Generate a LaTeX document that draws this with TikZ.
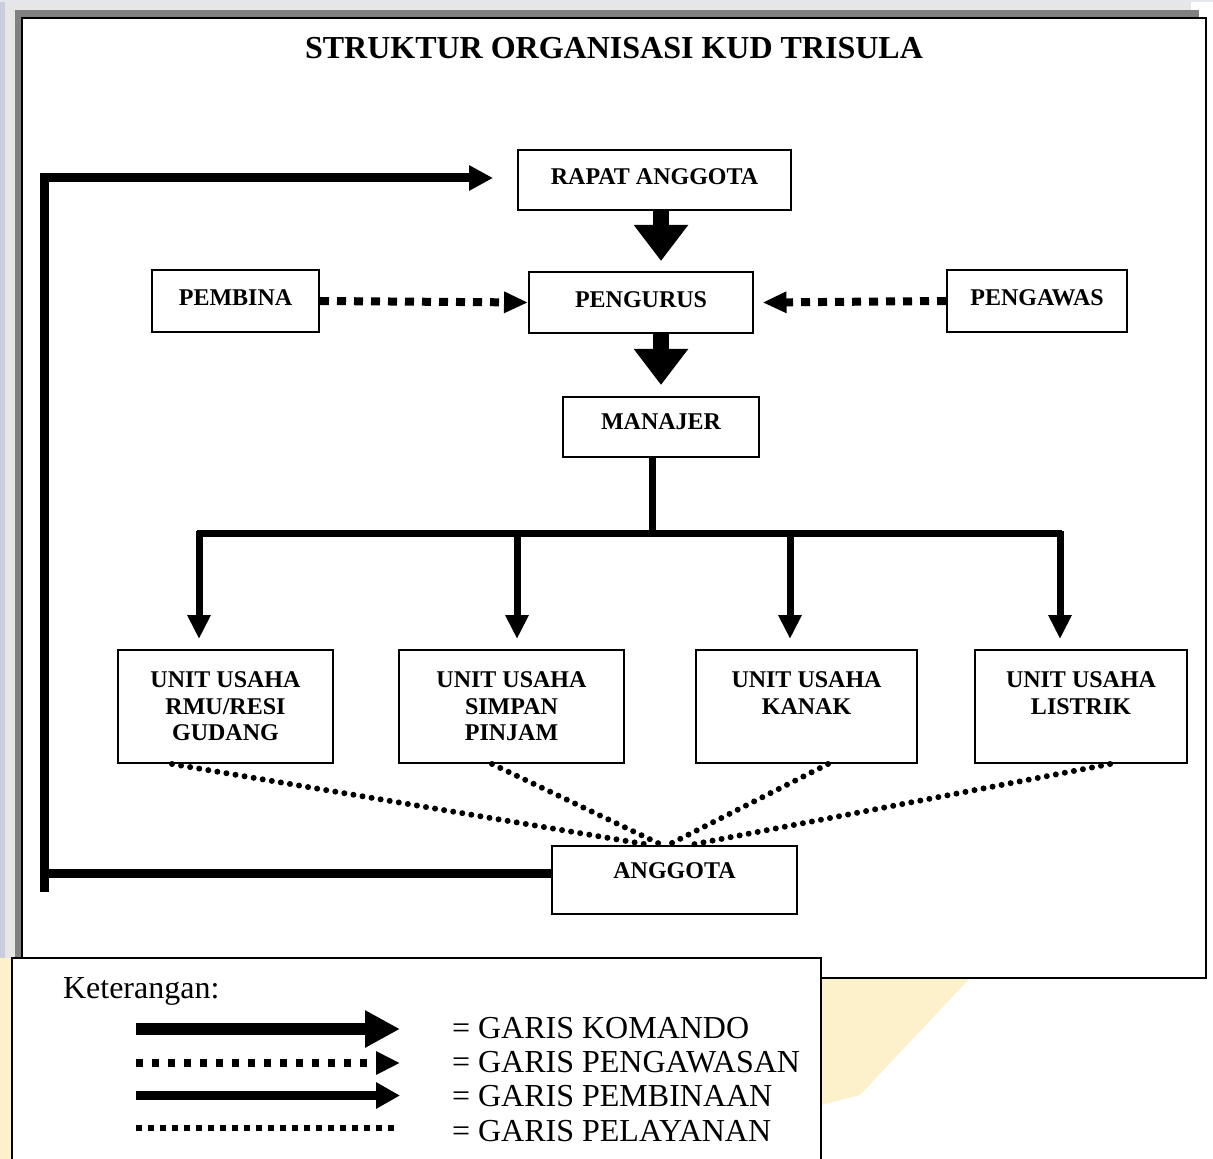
\documentclass[tikz,border=0pt]{standalone}
\usepackage{fontspec}
\setmainfont{Liberation Serif}
\usetikzlibrary{arrows.meta}
\definecolor{shadelight}{HTML}{E6E6E6}
\definecolor{shadedark}{HTML}{808080}
\definecolor{wmblue}{HTML}{C9CEDC}
\definecolor{wmyellow}{HTML}{FDF1CC}
\newcommand\boxfont{\fontsize{12}{13.3}\selectfont\bfseries}
\newcommand\legfont{\fontsize{16}{19}\selectfont}
\begin{document}
\begin{tikzpicture}[x=0.5pt,y=-0.5pt,
	box/.style={draw, line width=1pt, fill=white, inner sep=0pt, align=center, font=\boxfont},
	komando/.style={line width=8pt, -{Triangle[width=26pt,length=18pt]}},
	cabang/.style={line width=3.5pt, -{Triangle[width=11pt,length=12pt]}},
	pembinaan/.style={line width=4.5pt, -{Triangle[width=12pt,length=12pt]}},
	pengawasan/.style={line width=4pt, dash pattern=on 4.5pt off 4pt, -{Triangle[width=10pt,length=12pt]}},
	pelayanan/.style={line width=3pt, line cap=round, dash pattern=on 0pt off 4.6pt}]
	\fill[white] (0,0) rectangle (1213,1159);
	\useasboundingbox (0,0) rectangle (1213,1159);
	% latar dan bayangan bingkai
	\fill[wmblue] (0,0) rectangle (5,958);
	\fill[wmblue!50] (0,0) rectangle (1213,2);
	\fill[wmyellow] (0,958) rectangle (12,1159);
	\fill[wmyellow] (821,978) -- (970,978) -- (860,1095) -- (821,1105) -- cycle;
	\fill[shadelight] (5,2) rectangle (1191,958);
	\fill[shadedark] (15,10) rectangle (1199,958);
	\draw[line width=1pt, fill=white] (22,18) rectangle (1206,978);
	\node (judul) at (614,48) {\fontsize{16}{19}\selectfont\bfseries STRUKTUR ORGANISASI KUD TRISULA};
	% kotak
	\node[box, minimum width=136.5pt, minimum height=30pt, text depth=3pt] (rapat) at (654.5,180) {RAPAT ANGGOTA};
	\node[box, minimum width=112pt, minimum height=30.5pt, text depth=3pt] (pengurus) at (641,302.5) {PENGURUS};
	\node[box, minimum width=83.5pt, minimum height=31pt, text depth=3pt] (pembina) at (235.5,301) {PEMBINA};
	\node[box, minimum width=90pt, minimum height=31pt, text depth=3pt] (pengawas) at (1037,301) {PENGAWAS};
	\node[box, minimum width=98pt, minimum height=30pt, text depth=5pt] (manajer) at (661,427) {MANAJER};
	\node[box, minimum width=107.5pt, minimum height=56.5pt] (unitA) at (225.5,706.5) {UNIT USAHA\\RMU/RESI\\GUDANG};
	\node[box, minimum width=112.5pt, minimum height=56.5pt] (unitB) at (511.5,706.5) {UNIT USAHA\\SIMPAN\\PINJAM};
	\node[box, minimum width=110.5pt, minimum height=56.5pt] (unitC) at (806.5,706.5) {UNIT USAHA\\KANAK\\~};
	\node[box, minimum width=106pt, minimum height=56.5pt] (unitD) at (1081,706.5) {UNIT USAHA\\LISTRIK\\~};
	\node[box, minimum width=122.5pt, minimum height=34pt, text depth=9pt] (anggota) at (674.5,880) {ANGGOTA};
	% garis komando
	\draw[komando] ([xshift=3.25pt]rapat.south) -- ([xshift=3.25pt,yshift=5pt]rapat.south |- pengurus.north);
	\draw[komando] (pengurus.south -| manajer.north) -- ([yshift=5.5pt]manajer.north);
	\coordinate (bar) at (652,533);
	\draw[line width=3.5pt] ([xshift=-4.5pt]manajer.south) -- (bar);
	\draw[line width=3.5pt] (197,533) -- (1062,533);
	\foreach \u/\x in {unitA/199, unitB/517, unitC/790, unitD/1060}
		\draw[cabang] (\x,531) -- ([yshift=5pt]\u.north -| \x,0);
	% garis pengawasan
	\draw[pengawasan] (pembina.east) -- (pengurus.west);
	\draw[pengawasan] (pengawas.west) -- ([xshift=4.25pt]pengurus.east);
	% garis pembinaan
	\coordinate (fbfoot) at (44,892);
	\coordinate (fbtop) at (44,178);
	\coordinate (fbend) at (493,178);
	\draw[line width=4.5pt] ([yshift=3.5pt]anggota.west) -- ([yshift=3.5pt]anggota.west -| fbfoot);
	\draw[pembinaan] (fbfoot) -- (fbtop) -- (fbend);
	% garis pelayanan
	\draw[pelayanan] ([xshift=-26.75pt]unitA.south) -- ([xshift=-12.25pt]anggota.north);
	\draw[pelayanan] ([xshift=-9.75pt]unitB.south) -- ([xshift=-6.25pt]anggota.north);
	\draw[pelayanan] ([xshift=10.75pt]unitC.south) -- ([xshift=-3.25pt]anggota.north);
	\draw[pelayanan] ([xshift=14.5pt]unitD.south) -- ([xshift=7.75pt]anggota.north);
	% keterangan
	\draw[line width=1pt, fill=white] (12,1175) -- (12,958) -- (821,958) -- (821,1175);
	\node[anchor=base west, font=\legfont] (ket) at (56,998) {Keterangan:};
	\draw[line width=6pt, -{Triangle[width=17.5pt,length=17.5pt]}] (136,1029) -- (400,1029);
	\draw[line width=4pt, dash pattern=on 3.5pt off 4.5pt, -{Triangle[width=11pt,length=12pt]}] (136,1063) -- (400,1063);
	\draw[line width=4.5pt, -{Triangle[width=12.5pt,length=12pt]}] (136,1095.5) -- (400,1095.5);
	\draw[line width=3pt, dash pattern=on 3pt off 3pt] (136,1128) -- (395,1128);
	\node[anchor=base west, font=\legfont] (lk) at (445,1038) {= GARIS KOMANDO};
	\node[anchor=base west, font=\legfont] (lw) at (445,1072) {= GARIS PENGAWASAN};
	\node[anchor=base west, font=\legfont] (lb) at (445,1106) {= GARIS PEMBINAAN};
	\node[anchor=base west, font=\legfont] (ll) at (445,1141) {= GARIS PELAYANAN};
\end{tikzpicture}
\end{document}
